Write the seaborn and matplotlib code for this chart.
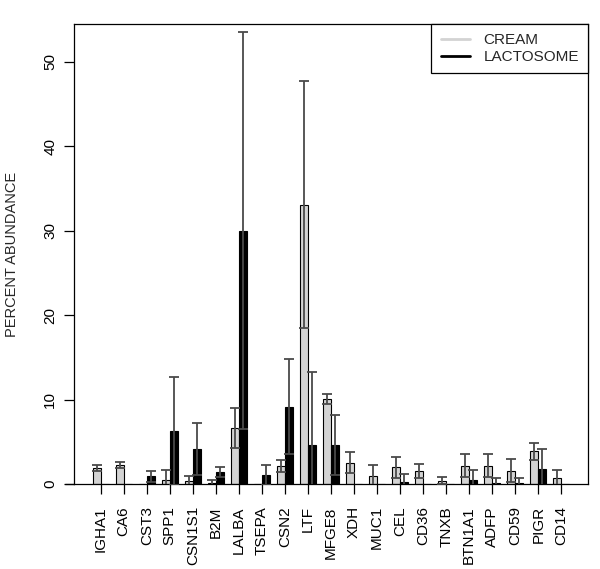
import numpy as np
import pandas as pd
import matplotlib
matplotlib.use("Agg")
import matplotlib.pyplot as plt
from matplotlib.lines import Line2D
import seaborn as sns

genes = ["IGHA1", "CA6", "CST3", "SPP1", "CSN1S1", "B2M", "LALBA", "TSEPA", "CSN2", "LTF",
         "MFGE8", "XDH", "MUC1", "CEL", "CD36", "TNXB", "BTN1A1", "ADFP", "CD59", "PIGR", "CD14"]
series_names = ["CREAM", "LACTOSOME"]
cream = [1.85, 2.2, 0.0, 0.43, 0.3, 0.1, 6.63, 0.0, 2.13, 33.1, 10.07, 2.52, 0.98, 2.0, 1.57,
         0.39, 2.17, 2.17, 1.57, 3.9, 0.71]
cream_sd = [0.35, 0.36, 0.0, 1.17, 0.68, 0.37, 2.33, 0.0, 0.71, 14.6, 0.6, 1.27, 1.22, 1.23, 0.83,
            0.4, 1.33, 1.33, 1.39, 1.0, 0.95]
lacto = [0.0, 0.0, 0.9, 6.23, 4.18, 1.42, 30.0, 1.02, 9.16, 4.66, 4.62, 0.0, 0.0, 0.27, 0.0,
         0.0, 0.51, 0.15, 0.15, 1.78, 0.0]
lacto_sd = [0.0, 0.0, 0.68, 6.4, 3.08, 0.58, 23.5, 1.18, 5.64, 8.64, 3.51, 0.0, 0.0, 0.95, 0.0,
            0.0, 1.1, 0.55, 0.55, 2.36, 0.0]
y_ticks = [0, 10, 20, 30, 40, 50]
y_label = "PERCENT ABUNDANCE"

sns.set_theme(style="white")
plt.rcParams["font.family"] = ["Liberation Sans", "DejaVu Sans"]

df = pd.DataFrame({
    "gene": genes * 2,
    "sample": [series_names[0]] * len(genes) + [series_names[1]] * len(genes),
    "value": cream + lacto,
})

fig = plt.figure(figsize=(6.0, 5.69), dpi=100)
ax = fig.add_axes([74 / 600, 1 - 484 / 569, (588 - 74) / 600, (484 - 24) / 569])

palette = {series_names[0]: "#d3d3d3", series_names[1]: "#000000"}
sns.barplot(data=df, x="gene", y="value", hue="sample", order=genes,
            hue_order=series_names, palette=palette, errorbar=None,
            width=0.7, gap=0, edgecolor="black", linewidth=0.8,
            saturation=1, legend=False, ax=ax)

sds = [cream_sd, lacto_sd]
vals = [cream, lacto]
for cont, v, s in zip(ax.containers, vals, sds):
    xs = np.array([p.get_x() + p.get_width() / 2 for p in cont.patches])
    v = np.array(v)
    s = np.array(s)
    m = s > 0
    ax.errorbar(xs[m], v[m], yerr=s[m], fmt="none", ecolor="#4a4a4a",
                elinewidth=1.3, capsize=3.6, capthick=1.3, zorder=5)

ax.set_xlim(-1.16, len(genes) - 1 + 1.16)
ax.set_ylim(0, 54.5)
ax.set_yticks(y_ticks)
ax.set_yticklabels([str(t) for t in y_ticks], rotation=90, va="center", fontsize=11)
ax.set_xticks(range(len(genes)))
ax.set_xticklabels(genes, rotation=90, fontsize=11)
ax.tick_params(axis="y", direction="out", length=7, width=0.9, pad=5, colors="black",
               left=True)
ax.tick_params(axis="x", direction="out", length=7, width=0.9, pad=9, colors="black",
               bottom=True)
ax.set_xlabel("")
ax.set_ylabel(y_label, fontsize=10.5)
ax.yaxis.set_label_coords(-0.107, 0.5)

for sp in ax.spines.values():
    sp.set_visible(True)
    sp.set_color("black")
    sp.set_linewidth(0.9)

# baseline extending slightly left of the box
ax.plot([-0.018, 0], [0, 0], transform=ax.get_yaxis_transform(), color="black",
        lw=0.9, clip_on=False)

handles = [Line2D([], [], color="#d3d3d3", lw=2),
           Line2D([], [], color="black", lw=2)]
leg = ax.legend(handles, series_names, loc="upper right", borderaxespad=0,
                frameon=True, fancybox=False, edgecolor="black", framealpha=1,
                fontsize=11, handlelength=1.9, handletextpad=0.9,
                labelspacing=0.2, borderpad=0.6)
leg.get_frame().set_linewidth(0.9)

fig.savefig("out.png", dpi=100)
